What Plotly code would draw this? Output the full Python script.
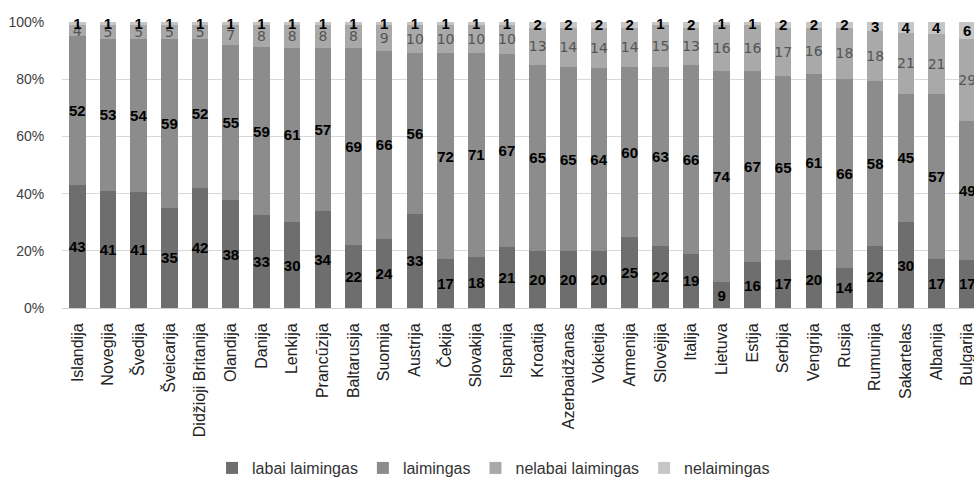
import plotly.graph_objects as go

countries = ["Islandija", "Novegija", "Švedija", "Šveicarija", "Didžioji Britanija", "Olandija",
             "Danija", "Lenkija", "Prancūzija", "Baltarusija", "Suomija", "Austrija", "Čekija",
             "Slovakija", "Ispanija", "Kroatija", "Azerbaidžanas", "Vokietija", "Armenija",
             "Slovėjija", "Italija", "Lietuva", "Estija", "Serbija", "Vengrija", "Rusija",
             "Rumunija", "Sakartelas", "Albanija", "Bulgarija"]

labai_laimingas = [43, 41, 41, 35, 42, 38, 33, 30, 34, 22, 24, 33, 17, 18, 21, 20, 20, 20, 25,
                   22, 19, 9, 16, 17, 20, 14, 22, 30, 17, 17]
laimingas = [52, 53, 54, 59, 52, 55, 59, 61, 57, 69, 66, 56, 72, 71, 67, 65, 65, 64, 60,
             63, 66, 74, 67, 65, 61, 66, 58, 45, 57, 49]
nelabai_laimingas = [4, 5, 5, 5, 5, 7, 8, 8, 8, 8, 9, 10, 10, 10, 10, 13, 14, 14, 14,
                     15, 13, 16, 16, 17, 16, 18, 18, 21, 21, 29]
nelaimingas = [1, 1, 1, 1, 1, 1, 1, 1, 1, 1, 1, 1, 1, 1, 1, 2, 2, 2, 2,
               1, 2, 1, 1, 2, 2, 2, 3, 4, 4, 6]

y_ticks = [0, 20, 40, 60, 80, 100]
y_tick_labels = ["0%", "20%", "40%", "60%", "80%", "100%"]

NARROW = "Liberation Sans Narrow, Liberation Sans, Arial"
series = [
    ("labai laimingas", labai_laimingas, "#6e6e6e", "black", NARROW, 15, "bold"),
    ("laimingas", laimingas, "#8c8c8c", "black", NARROW, 15, "bold"),
    ("nelabai laimingas", nelabai_laimingas, "#a9a9a9", "#555555", "DejaVu Sans", 14, "normal"),
    ("nelaimingas", nelaimingas, "#c6c6c6", "black", NARROW, 15, "bold"),
]

fig = go.Figure()
for name, vals, color, tcolor, tfont, tsize, weight in series:
    fig.add_trace(go.Bar(
        name=name, x=list(range(len(countries))), y=vals,
        marker=dict(color=color, line=dict(width=0)),
        text=[str(v) for v in vals], textposition="inside", insidetextanchor="middle",
        textangle=0, constraintext="none",
        textfont=dict(color=tcolor, family=tfont, size=tsize, weight=weight),
        cliponaxis=False,
    ))

fig.update_layout(
    width=974, height=481,
    barmode="stack", barnorm="percent", bargap=0.46,
    plot_bgcolor="white", paper_bgcolor="white",
    margin=dict(l=62, r=0, t=22, b=173),
    font=dict(family="Liberation Sans, Arial", color="#333333"),
    xaxis=dict(
        tickmode="array", tickvals=list(range(len(countries))), ticktext=countries,
        tickangle=-90, range=[-0.5, 29.22],
        tickfont=dict(size=16, color="#222222"),
        ticklabeloverflow="allow",
        showline=True, linecolor="#d0d0d0", linewidth=1,
        ticks="outside", ticklen=8, tickcolor="rgba(0,0,0,0)",
        showgrid=False, automargin=False,
    ),
    yaxis=dict(
        range=[0, 100.0001], tickmode="array", tickvals=y_ticks, ticktext=y_tick_labels,
        tickfont=dict(size=14, color="#404040"),
        gridcolor="#d9d9d9", gridwidth=1, zeroline=False,
        ticks="outside", ticklen=14, tickcolor="rgba(0,0,0,0)",
        automargin=False,
    ),
    legend=dict(
        orientation="h", xref="container", yref="container",
        x=0.2177, xanchor="left", y=0.027, yanchor="middle",
        font=dict(size=16, color="#333333"),
        traceorder="normal",
    ),
    showlegend=True,
)

fig.write_html("out.html")
